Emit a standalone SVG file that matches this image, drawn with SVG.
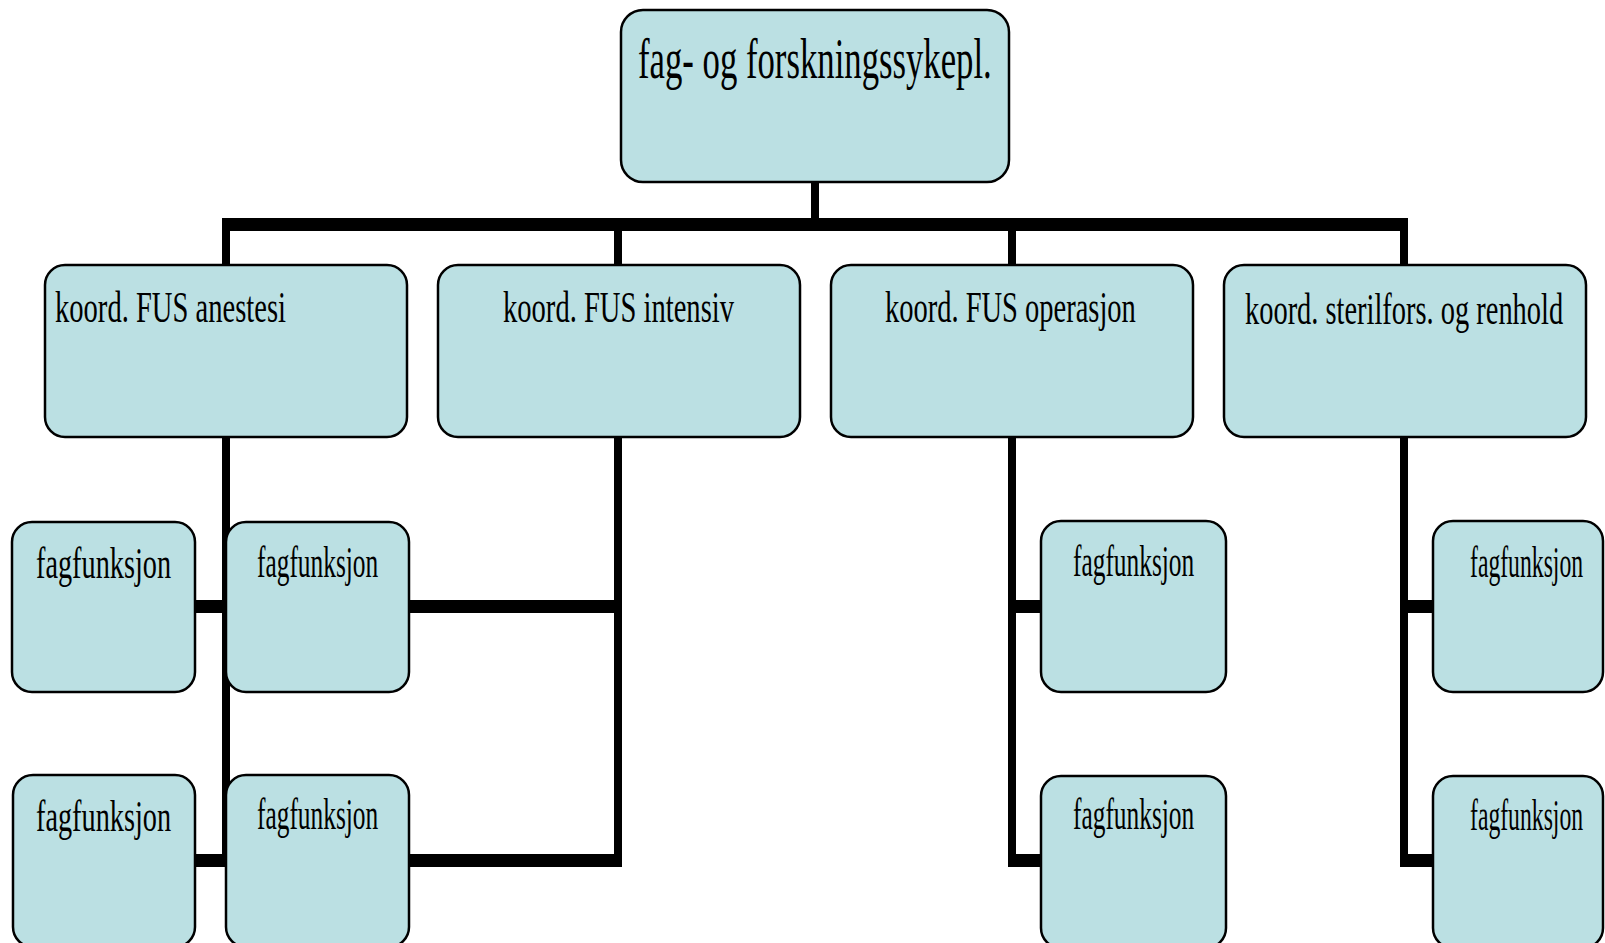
<svg xmlns="http://www.w3.org/2000/svg" width="1605" height="943" viewBox="0 0 1605 943">
<style>
.box{fill:#bbe0e3;stroke:#000;stroke-width:2.5}
.ln{fill:#000}
.t{font-family:"Liberation Serif","Times New Roman",serif;fill:#000;font-size:44px}
.tt{font-family:"Liberation Serif","Times New Roman",serif;fill:#000;font-size:57px}
</style>
<rect width="1605" height="943" fill="#fff"/>
<g id="connectors">
<rect class="ln" x="811" y="182" width="8" height="45"/>
<rect class="ln" x="222" y="218" width="1186" height="13"/>
<rect class="ln" x="222" y="218" width="8" height="48"/>
<rect class="ln" x="614" y="218" width="8" height="48"/>
<rect class="ln" x="1008" y="218" width="8" height="48"/>
<rect class="ln" x="1400" y="218" width="8" height="48"/>
<rect class="ln" x="222" y="437" width="8" height="430"/>
<rect class="ln" x="190" y="600" width="40" height="13"/>
<rect class="ln" x="190" y="854" width="40" height="13"/>
<rect class="ln" x="614" y="437" width="8" height="430"/>
<rect class="ln" x="405" y="600" width="217" height="13"/>
<rect class="ln" x="405" y="854" width="217" height="13"/>
<rect class="ln" x="1008" y="437" width="8" height="430"/>
<rect class="ln" x="1008" y="600" width="36" height="13"/>
<rect class="ln" x="1008" y="854" width="36" height="13"/>
<rect class="ln" x="1400" y="437" width="8" height="430"/>
<rect class="ln" x="1400" y="600" width="36" height="13"/>
<rect class="ln" x="1400" y="854" width="36" height="13"/>
</g>
<g id="n-top">
<rect class="box" x="621" y="10" width="388" height="172" rx="22"/>
<text class="tt" transform="translate(638,78) scale(0.61,1)" textLength="580" lengthAdjust="spacingAndGlyphs">fag- og forskningssykepl.</text>
</g>
<g id="n-anestesi">
<rect class="box" x="45" y="265" width="362" height="172" rx="20"/>
<text class="t" transform="translate(55,322) scale(0.66,1)" textLength="350" lengthAdjust="spacingAndGlyphs">koord. FUS anestesi</text>
</g>
<g id="n-intensiv">
<rect class="box" x="438" y="265" width="362" height="172" rx="20"/>
<text class="t" transform="translate(503,322) scale(0.66,1)" textLength="350" lengthAdjust="spacingAndGlyphs">koord. FUS intensiv</text>
</g>
<g id="n-operasjon">
<rect class="box" x="831" y="265" width="362" height="172" rx="20"/>
<text class="t" transform="translate(885,322) scale(0.66,1)" textLength="380" lengthAdjust="spacingAndGlyphs">koord. FUS operasjon</text>
</g>
<g id="n-sterilfors">
<rect class="box" x="1224" y="265" width="362" height="172" rx="20"/>
<text class="t" transform="translate(1245,324) scale(0.66,1)" textLength="482" lengthAdjust="spacingAndGlyphs">koord. sterilfors. og renhold</text>
</g>
<g id="n-fag-a1">
<rect class="box" x="12" y="522" width="183" height="170" rx="20"/>
<text class="t" transform="translate(36,578) scale(0.64,1)" textLength="211" lengthAdjust="spacingAndGlyphs">fagfunksjon</text>
</g>
<g id="n-fag-a2">
<rect class="box" x="13" y="775" width="182" height="172" rx="20"/>
<text class="t" transform="translate(36,831) scale(0.64,1)" textLength="211" lengthAdjust="spacingAndGlyphs">fagfunksjon</text>
</g>
<g id="n-fag-b1">
<rect class="box" x="226" y="522" width="183" height="170" rx="20"/>
<text class="t" transform="translate(257,577) scale(0.58,1)" textLength="209" lengthAdjust="spacingAndGlyphs">fagfunksjon</text>
</g>
<g id="n-fag-b2">
<rect class="box" x="226" y="775" width="183" height="172" rx="20"/>
<text class="t" transform="translate(257,829) scale(0.58,1)" textLength="209" lengthAdjust="spacingAndGlyphs">fagfunksjon</text>
</g>
<g id="n-fag-c1">
<rect class="box" x="1041" y="521" width="185" height="171" rx="20"/>
<text class="t" transform="translate(1073,576) scale(0.58,1)" textLength="209" lengthAdjust="spacingAndGlyphs">fagfunksjon</text>
</g>
<g id="n-fag-c2">
<rect class="box" x="1041" y="776" width="185" height="172" rx="20"/>
<text class="t" transform="translate(1073,829) scale(0.58,1)" textLength="209" lengthAdjust="spacingAndGlyphs">fagfunksjon</text>
</g>
<g id="n-fag-d1">
<rect class="box" x="1433" y="521" width="170" height="171" rx="20"/>
<text class="t" font-size="41" transform="translate(1470,577) scale(0.58,1)" textLength="195" lengthAdjust="spacingAndGlyphs">fagfunksjon</text>
</g>
<g id="n-fag-d2">
<rect class="box" x="1433" y="776" width="170" height="172" rx="20"/>
<text class="t" font-size="41" transform="translate(1470,830) scale(0.58,1)" textLength="195" lengthAdjust="spacingAndGlyphs">fagfunksjon</text>
</g>
</svg>
